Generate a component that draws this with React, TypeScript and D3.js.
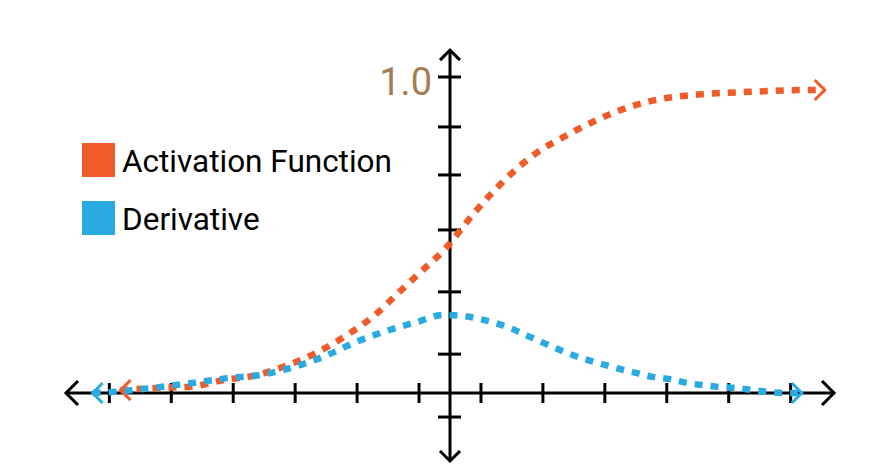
import React, { useEffect, useRef } from 'react'
import * as d3 from 'd3'

// x in tick units (origin = 0), y in output units
const activationX = [-5.32, -4.73, -4.19, -3.66, -3.11, -2.61, -2.13, -1.66, -1.21, -0.84, -0.44, -0.05, 0.27, 0.65, 1.0, 1.42, 1.89, 2.37, 2.85, 3.39, 3.92, 4.84, 5.81, 6.05]
const activationY = [0.009, 0.016, 0.02, 0.041, 0.057, 0.089, 0.13, 0.184, 0.247, 0.316, 0.389, 0.462, 0.541, 0.627, 0.696, 0.763, 0.816, 0.864, 0.902, 0.93, 0.943, 0.953, 0.959, 0.959]

const derivativeX = [-5.77, -5.48, -4.68, -4.03, -3.6, -3.06, -2.53, -1.98, -1.56, -1.08, -0.53, -0.11, 0.21, 0.48, 0.73, 1.0, 1.26, 1.48, 1.74, 1.98, 2.23, 2.5, 2.74, 3.02, 3.27, 3.55, 3.82, 4.08, 4.35, 4.63, 4.89, 5.16, 5.44, 5.68]
const derivativeY = [0, 0.003, 0.019, 0.035, 0.047, 0.057, 0.082, 0.12, 0.158, 0.193, 0.225, 0.247, 0.244, 0.234, 0.222, 0.203, 0.18, 0.161, 0.139, 0.12, 0.104, 0.089, 0.076, 0.063, 0.051, 0.044, 0.032, 0.025, 0.019, 0.016, 0.009, 0.003, 0, 0]

const xTicks = [-5.5, -4.5, -3.5, -2.5, -1.5, -0.5, 0.5, 1.5, 2.5, 3.5, 4.5, 5.5]
const yTicks = [-0.076, 0.123, 0.32, 0.516, 0.69, 0.842, 1.0]
const yLabel = '1.0'

const series = [
  { name: 'Activation Function', color: '#F15A29', xs: activationX, ys: activationY },
  { name: 'Derivative', color: '#29ABE2', xs: derivativeX, ys: derivativeY }
]

const width = 871
const height = 472

const App = () => {
  const ref = useRef(null)

  useEffect(() => {
    const x = d3.scaleLinear().domain([-6.2, 6.2]).range([66, 834])
    const y = d3.scaleLinear().domain([0, 1]).range([393, 77])

    const svg = d3.select(ref.current)
    svg.selectAll('*').remove()

    const axes = svg.append('g')
      .attr('stroke', '#000')
      .attr('stroke-width', 3)
      .attr('fill', 'none')

    // x axis with arrows both ends
    axes.append('line')
      .attr('x1', x(-6.2)).attr('x2', x(6.2))
      .attr('y1', y(0)).attr('y2', y(0))
    axes.append('path')
      .attr('d', `M${x(-6.2) + 12},${y(0) - 12}L${x(-6.2)},${y(0)}L${x(-6.2) + 12},${y(0) + 12}`)
    axes.append('path')
      .attr('d', `M${x(6.2) - 12},${y(0) - 12}L${x(6.2)},${y(0)}L${x(6.2) - 12},${y(0) + 12}`)

    // y axis with arrows both ends
    const yTop = y(1.085)
    const yBottom = y(-0.215)
    axes.append('line')
      .attr('x1', x(0)).attr('x2', x(0))
      .attr('y1', yTop).attr('y2', yBottom)
    axes.append('path')
      .attr('d', `M${x(0) - 10},${yTop + 10}L${x(0)},${yTop}L${x(0) + 10},${yTop + 10}`)
    axes.append('path')
      .attr('d', `M${x(0) - 10},${yBottom - 10}L${x(0)},${yBottom}L${x(0) + 10},${yBottom - 10}`)

    axes.selectAll('.xtick')
      .data(xTicks)
      .join('line')
      .attr('x1', d => x(d)).attr('x2', d => x(d))
      .attr('y1', y(0) - 10).attr('y2', y(0) + 10)

    axes.selectAll('.ytick')
      .data(yTicks)
      .join('line')
      .attr('x1', x(0) - 12).attr('x2', x(0) + 11)
      .attr('y1', d => y(d)).attr('y2', d => y(d))

    svg.append('text')
      .attr('x', x(0) - 18)
      .attr('y', y(1.0) + 18)
      .attr('text-anchor', 'end')
      .attr('font-family', 'Roboto')
      .attr('font-size', 38)
      .attr('fill', '#A67C52')
      .text(yLabel)

    const line = d3.line()
      .x(d => x(d[0]))
      .y(d => y(d[1]))
      .curve(d3.curveMonotoneX)

    series.forEach(s => {
      const pts = s.xs.map((v, i) => [v, s.ys[i]])
      svg.append('path')
        .datum(pts)
        .attr('d', line)
        .attr('fill', 'none')
        .attr('stroke', s.color)
        .attr('stroke-width', 6.5)
        .attr('stroke-dasharray', '8 8')

      const first = pts[0]
      const last = pts[pts.length - 1]
      const fx = x(first[0]), fy = y(first[1])
      const lx = x(last[0]), ly = y(last[1])
      svg.append('path')
        .attr('d', `M${fx + 10},${fy - 10}L${fx},${fy}L${fx + 10},${fy + 10}`)
        .attr('fill', 'none')
        .attr('stroke', s.color)
        .attr('stroke-width', 3)
      svg.append('path')
        .attr('d', `M${lx - 10},${ly - 10}L${lx},${ly}L${lx - 10},${ly + 10}`)
        .attr('fill', 'none')
        .attr('stroke', s.color)
        .attr('stroke-width', 3)
    })

    const legend = svg.append('g')
    series.forEach((s, i) => {
      const g = legend.append('g').attr('transform', `translate(82,${143 + i * 58})`)
      g.append('rect')
        .attr('width', 33).attr('height', 34)
        .attr('fill', s.color)
      g.append('text')
        .attr('x', 40)
        .attr('y', 29)
        .attr('font-family', 'Roboto')
        .attr('font-size', 31.5)
        .attr('fill', '#000')
        .text(s.name)
    })
  }, [])

  return (
    <svg width={width} height={height} ref={ref}
      style={{ position: 'absolute', left: 0, top: 0, background: '#fff' }} />
  )
}

export default App
